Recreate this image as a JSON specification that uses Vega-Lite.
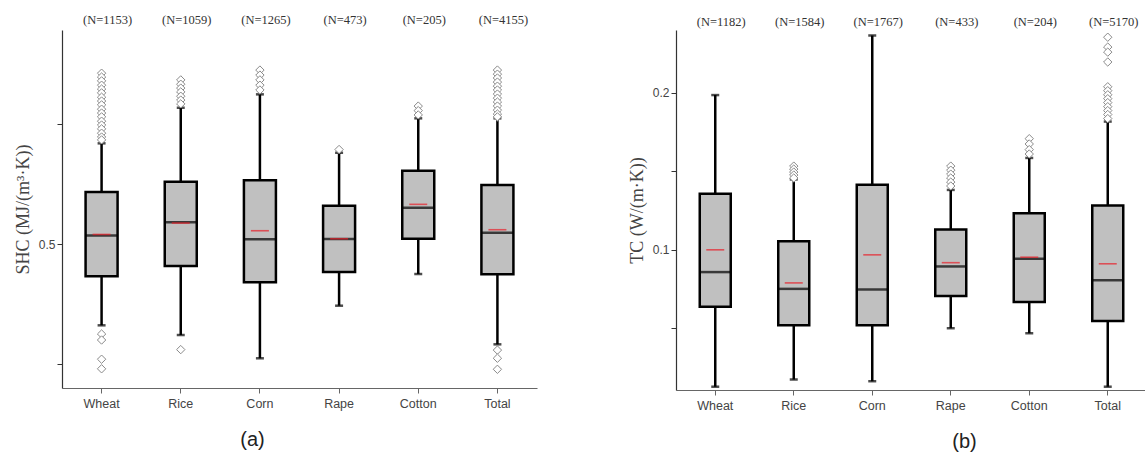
{
  "$schema": "https://vega.github.io/schema/vega-lite/v6.json",
  "padding": {"left": 14, "top": 13, "right": 0, "bottom": 0},
  "spacing": 139,
  "bounds": "flush",
  "config": {
    "view": {"stroke": null},
    "axisY": {"domainColor": "#333", "domainWidth": 1.2, "tickColor": "#333", "tickSize": 5, "labelFont": "Liberation Sans", "labelFontSize": 12, "labelColor": "#444", "titleFont": "Liberation Serif", "titleFontSize": 18, "titleFontWeight": "normal", "titleColor": "#444", "titlePadding": 6, "grid": false},
    "axisX": {"domainColor": "#666", "domainWidth": 1.2, "tickColor": "#666", "tickSize": 5, "labelPadding": 4, "labelFont": "Liberation Sans", "labelFontSize": 12.5, "labelColor": "#444", "labelAngle": 0, "titleFont": "Liberation Sans", "titleFontSize": 20, "titleFontWeight": "normal", "titleColor": "#222", "titlePadding": 20, "grid": false}
  },
  "datasets": {
    "shc": [
      {"crop": "Wheat", "n": "(N=1153)", "lo": 0.3306, "q1": 0.4327, "median": 0.518, "mean": 0.520, "q3": 0.6083, "hi": 0.7098},
      {"crop": "Rice", "n": "(N=1059)", "lo": 0.3104, "q1": 0.4542, "median": 0.5452, "mean": 0.5437, "q3": 0.6298, "hi": 0.784},
      {"crop": "Corn", "n": "(N=1265)", "lo": 0.2619, "q1": 0.4202, "median": 0.5098, "mean": 0.5277, "q3": 0.6327, "hi": 0.8119},
      {"crop": "Rape", "n": "(N=473)", "lo": 0.3715, "q1": 0.4417, "median": 0.5104, "mean": 0.5110, "q3": 0.5798, "hi": 0.6902},
      {"crop": "Cotton", "n": "(N=205)", "lo": 0.4375, "q1": 0.511, "median": 0.5757, "mean": 0.5827, "q3": 0.6527, "hi": 0.7619},
      {"crop": "Total", "n": "(N=4155)", "lo": 0.291, "q1": 0.4369, "median": 0.5235, "mean": 0.5298, "q3": 0.6229, "hi": 0.7619}
    ],
    "shc_out": [
      {"crop": "Wheat", "v": 0.856}, {"crop": "Wheat", "v": 0.848}, {"crop": "Wheat", "v": 0.840}, {"crop": "Wheat", "v": 0.831},
      {"crop": "Wheat", "v": 0.823}, {"crop": "Wheat", "v": 0.815}, {"crop": "Wheat", "v": 0.806}, {"crop": "Wheat", "v": 0.798},
      {"crop": "Wheat", "v": 0.790}, {"crop": "Wheat", "v": 0.781}, {"crop": "Wheat", "v": 0.773}, {"crop": "Wheat", "v": 0.765},
      {"crop": "Wheat", "v": 0.756}, {"crop": "Wheat", "v": 0.748}, {"crop": "Wheat", "v": 0.740}, {"crop": "Wheat", "v": 0.731},
      {"crop": "Wheat", "v": 0.723}, {"crop": "Wheat", "v": 0.717},
      {"crop": "Wheat", "v": 0.3125}, {"crop": "Wheat", "v": 0.300}, {"crop": "Wheat", "v": 0.260}, {"crop": "Wheat", "v": 0.240},
      {"crop": "Rice", "v": 0.842}, {"crop": "Rice", "v": 0.833}, {"crop": "Rice", "v": 0.825}, {"crop": "Rice", "v": 0.817},
      {"crop": "Rice", "v": 0.808}, {"crop": "Rice", "v": 0.800}, {"crop": "Rice", "v": 0.792}, {"crop": "Rice", "v": 0.280},
      {"crop": "Corn", "v": 0.8625}, {"crop": "Corn", "v": 0.852}, {"crop": "Corn", "v": 0.842}, {"crop": "Corn", "v": 0.831}, {"crop": "Corn", "v": 0.821},
      {"crop": "Rape", "v": 0.697},
      {"crop": "Cotton", "v": 0.7875}, {"crop": "Cotton", "v": 0.778}, {"crop": "Cotton", "v": 0.769},
      {"crop": "Total", "v": 0.8625}, {"crop": "Total", "v": 0.854}, {"crop": "Total", "v": 0.846}, {"crop": "Total", "v": 0.8375},
      {"crop": "Total", "v": 0.829}, {"crop": "Total", "v": 0.821}, {"crop": "Total", "v": 0.8125}, {"crop": "Total", "v": 0.804},
      {"crop": "Total", "v": 0.796}, {"crop": "Total", "v": 0.7875}, {"crop": "Total", "v": 0.779}, {"crop": "Total", "v": 0.771},
      {"crop": "Total", "v": 0.765},
      {"crop": "Total", "v": 0.279}, {"crop": "Total", "v": 0.262}, {"crop": "Total", "v": 0.239}
    ],
    "tc": [
      {"crop": "Wheat", "n": "(N=1182)", "lo": 0.0125, "q1": 0.0635, "median": 0.0856, "mean": 0.0998, "q3": 0.1356, "hi": 0.1985},
      {"crop": "Rice", "n": "(N=1584)", "lo": 0.0171, "q1": 0.0517, "median": 0.0749, "mean": 0.0787, "q3": 0.1053, "hi": 0.1447},
      {"crop": "Corn", "n": "(N=1767)", "lo": 0.016, "q1": 0.0517, "median": 0.0745, "mean": 0.0966, "q3": 0.1413, "hi": 0.2365},
      {"crop": "Rape", "n": "(N=433)", "lo": 0.0498, "q1": 0.0704, "median": 0.0892, "mean": 0.0916, "q3": 0.1127, "hi": 0.138},
      {"crop": "Cotton", "n": "(N=204)", "lo": 0.0466, "q1": 0.0666, "median": 0.0941, "mean": 0.0951, "q3": 0.1232, "hi": 0.1584},
      {"crop": "Total", "n": "(N=5170)", "lo": 0.0125, "q1": 0.0544, "median": 0.0804, "mean": 0.0909, "q3": 0.128, "hi": 0.1816}
    ],
    "tc_out": [
      {"crop": "Rice", "v": 0.1532}, {"crop": "Rice", "v": 0.1513}, {"crop": "Rice", "v": 0.1494}, {"crop": "Rice", "v": 0.1475}, {"crop": "Rice", "v": 0.1456},
      {"crop": "Rape", "v": 0.1532}, {"crop": "Rape", "v": 0.1506}, {"crop": "Rape", "v": 0.1481}, {"crop": "Rape", "v": 0.1456}, {"crop": "Rape", "v": 0.143}, {"crop": "Rape", "v": 0.1405},
      {"crop": "Cotton", "v": 0.1707}, {"crop": "Cotton", "v": 0.1673}, {"crop": "Cotton", "v": 0.1637}, {"crop": "Cotton", "v": 0.1609},
      {"crop": "Total", "v": 0.2354}, {"crop": "Total", "v": 0.2291}, {"crop": "Total", "v": 0.2259}, {"crop": "Total", "v": 0.2196},
      {"crop": "Total", "v": 0.2038}, {"crop": "Total", "v": 0.2013}, {"crop": "Total", "v": 0.1987}, {"crop": "Total", "v": 0.1962},
      {"crop": "Total", "v": 0.1937}, {"crop": "Total", "v": 0.1911}, {"crop": "Total", "v": 0.1886}, {"crop": "Total", "v": 0.1861}, {"crop": "Total", "v": 0.1835}
    ]
  },
  "hconcat": [
    {
      "width": 475,
      "height": 358,
      "data": {"name": "shc"},
      "encoding": {
        "x": {"field": "crop", "type": "nominal", "sort": ["Wheat", "Rice", "Corn", "Rape", "Cotton", "Total"], "scale": {"paddingInner": 0.1, "paddingOuter": 0.05}, "axis": {"title": "(a)", "titleX": 190}}
      },
      "layer": [
        {"mark": {"type": "rule", "color": "#000", "strokeWidth": 2.5},
         "encoding": {"y": {"field": "lo", "type": "quantitative", "title": "SHC (MJ/(m³·K))", "scale": {"domain": [0.2, 0.946], "nice": false, "zero": false}, "axis": {"values": [0.25, 0.5, 0.75], "labelExpr": "datum.value == 0.5 ? '0.5' : ''"}}, "y2": {"field": "hi"}}},
        {"mark": {"type": "tick", "color": "#000", "size": 8, "thickness": 2.5},
         "encoding": {"y": {"field": "lo", "type": "quantitative", "title": "SHC (MJ/(m³·K))"}}},
        {"mark": {"type": "tick", "color": "#000", "size": 8, "thickness": 2.5},
         "encoding": {"y": {"field": "hi", "type": "quantitative", "title": "SHC (MJ/(m³·K))"}}},
        {"mark": {"type": "bar", "width": 32, "fill": "#c0c0c0", "stroke": "#000", "strokeWidth": 2.5},
         "encoding": {"y": {"field": "q1", "type": "quantitative", "title": "SHC (MJ/(m³·K))"}, "y2": {"field": "q3"}}},
        {"mark": {"type": "tick", "color": "#000", "size": 32, "thickness": 2.5},
         "encoding": {"y": {"field": "median", "type": "quantitative", "title": "SHC (MJ/(m³·K))"}}},
        {"mark": {"type": "tick", "color": "#e8202a", "size": 18, "thickness": 1.6},
         "encoding": {"y": {"field": "mean", "type": "quantitative", "title": "SHC (MJ/(m³·K))"}}},
        {"data": {"name": "shc_out"},
         "mark": {"type": "point", "shape": "diamond", "filled": true, "fill": "white", "stroke": "#8a8a8a", "strokeWidth": 1, "size": 70, "opacity": 1},
         "encoding": {"y": {"field": "v", "type": "quantitative", "title": "SHC (MJ/(m³·K))"}}},
        {"mark": {"type": "text", "font": "Liberation Serif", "fontSize": 12.5, "color": "#333", "dx": 6, "baseline": "middle"},
         "encoding": {"y": {"datum": 0.967, "type": "quantitative", "title": "SHC (MJ/(m³·K))"}, "text": {"field": "n"}}}
      ]
    },
    {
      "width": 471,
      "height": 360,
      "data": {"name": "tc"},
      "encoding": {
        "x": {"field": "crop", "type": "nominal", "sort": ["Wheat", "Rice", "Corn", "Rape", "Cotton", "Total"], "scale": {"paddingInner": 0.1, "paddingOuter": 0.05}, "axis": {"title": "(b)", "titleX": 288}}
      },
      "layer": [
        {"mark": {"type": "rule", "color": "#000", "strokeWidth": 2.5},
         "encoding": {"y": {"field": "lo", "type": "quantitative", "title": "TC (W/(m·K))", "scale": {"domain": [0.0104, 0.24], "nice": false, "zero": false}, "axis": {"values": [0.05, 0.1, 0.15, 0.2], "labelExpr": "datum.value == 0.1 ? '0.1' : (datum.value == 0.2 ? '0.2' : '')"}}, "y2": {"field": "hi"}}},
        {"mark": {"type": "tick", "color": "#000", "size": 8, "thickness": 2.5},
         "encoding": {"y": {"field": "lo", "type": "quantitative", "title": "TC (W/(m·K))"}}},
        {"mark": {"type": "tick", "color": "#000", "size": 8, "thickness": 2.5},
         "encoding": {"y": {"field": "hi", "type": "quantitative", "title": "TC (W/(m·K))"}}},
        {"mark": {"type": "bar", "width": 31, "fill": "#c0c0c0", "stroke": "#000", "strokeWidth": 2.5},
         "encoding": {"y": {"field": "q1", "type": "quantitative", "title": "TC (W/(m·K))"}, "y2": {"field": "q3"}}},
        {"mark": {"type": "tick", "color": "#000", "size": 31, "thickness": 2.5},
         "encoding": {"y": {"field": "median", "type": "quantitative", "title": "TC (W/(m·K))"}}},
        {"mark": {"type": "tick", "color": "#e8202a", "size": 18, "thickness": 1.6},
         "encoding": {"y": {"field": "mean", "type": "quantitative", "title": "TC (W/(m·K))"}}},
        {"data": {"name": "tc_out"},
         "mark": {"type": "point", "shape": "diamond", "filled": true, "fill": "white", "stroke": "#8a8a8a", "strokeWidth": 1, "size": 70, "opacity": 1},
         "encoding": {"y": {"field": "v", "type": "quantitative", "title": "TC (W/(m·K))"}}},
        {"mark": {"type": "text", "font": "Liberation Serif", "fontSize": 12.5, "color": "#333", "dx": 6, "baseline": "middle"},
         "encoding": {"y": {"datum": 0.2451, "type": "quantitative", "title": "TC (W/(m·K))"}, "text": {"field": "n"}}}
      ]
    }
  ]
}
